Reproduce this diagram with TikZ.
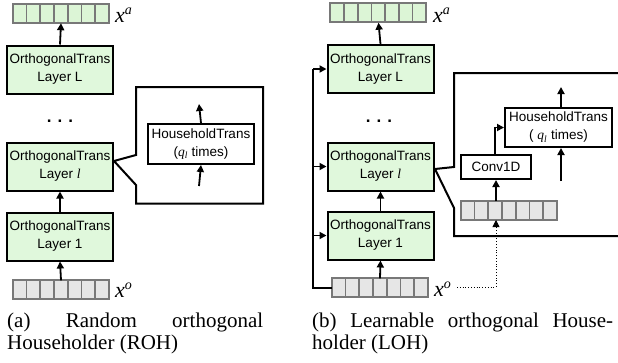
\documentclass[tikz,border=0pt]{standalone}
\usepackage{fontspec}
\setmainfont{Liberation Sans}
\newfontfamily\serif{Liberation Serif}
\usetikzlibrary{arrows.meta,calc}
\definecolor{boxgreen}{RGB}{224,248,220}
\definecolor{cellgreen}{RGB}{220,245,214}
\definecolor{cellgray}{RGB}{230,230,230}
\definecolor{cellline}{RGB}{120,120,120}
\newcommand{\drawcells}[2]{%
  \foreach \i in {0,...,6}{%
    \draw[cellline,line width=1.7pt,fill=#2] ($(#1.north west)+(\i*13.714,0)$) rectangle ++(13.714,19);}}
\newcommand{\qlsym}{{\serif\itshape q}\textsubscript{\serif\itshape l}}
\newcommand{\lsym}{{\serif\itshape l}}
\newcommand{\veclabel}[1]{{\serif\itshape\fontsize{22}{22}\selectfont x\raisebox{8pt}{\fontsize{14}{14}\selectfont #1}}}
\begin{document}
\begin{tikzpicture}[x=1pt,y=-1pt,
  layerbox/.style={draw=black,line width=2pt,fill=boxgreen,minimum width=106pt,minimum height=48pt,inner sep=0pt,align=center,font=\fontsize{13.5}{18}\selectfont},
  plainbox/.style={draw=black,line width=2pt,fill=white,inner sep=0pt,align=center,font=\fontsize{13.5}{18}\selectfont},
  vecnode/.style={minimum width=96pt,minimum height=19pt,inner sep=0pt},
  conn/.style={line width=1.8pt,-{Triangle[length=7pt,width=7pt]}},
  plainline/.style={line width=1.8pt},
  callout/.style={line width=2pt,line join=miter},
  dotsnode/.style={font=\bfseries\fontsize{17}{17}\selectfont,inner sep=0pt},
  lab/.style={anchor=west,inner sep=0pt},
  caption/.style={anchor=base west,inner sep=0pt,font=\serif\fontsize{21}{21}\selectfont}
]
\useasboundingbox (0,0) rectangle (618,362);

% ---------------- left panel ----------------
\node[vecnode] (xaL) at (61,13.5) {};
\drawcells{xaL}{cellgreen}
\node[lab] (xaLlab) at (115,15) {\veclabel{a}};
\node[layerbox] (LL) at (60,69.5) {OrthogonalTrans\\Layer L};
\node[dotsnode] (dotsL) at (60,121) {.\hspace{6pt}.\hspace{6pt}.};
\node[layerbox] (lL) at (60,166.5) {OrthogonalTrans\\Layer \lsym};
\node[layerbox] (oneL) at (60,236.5) {OrthogonalTrans\\Layer 1};
\node[vecnode] (xoL) at (61,290) {};
\drawcells{xoL}{cellgray}
\node[lab] (xoLlab) at (115,290) {\veclabel{o}};

\draw[conn] (oneL.north) -- (lL.south);
\draw[conn] (xoL.north) -- (oneL.south);
\draw[conn] (LL.north) -- (xaL.south);

\coordinate (apexL) at (114,161);
\draw[callout] (apexL) -- (136,155) -- (136,87) -- (263,87) -- (263,203.5) -- (136,203.5) -- (136,185) -- cycle;
\node[plainbox,minimum width=106pt,minimum height=40pt] (htL) at (201,144) {HouseholdTrans\\(\qlsym{} times)};
\coordinate (htLtop) at (199,104);
\coordinate (htLbot) at (199,186);
\draw[conn] (htL.north) -- (htLtop);
\draw[conn] (htLbot) -- (htL.south);

\node[caption] (capa1) at (7,327) {\makebox[256pt][s]{(a) Random orthogonal}};
\node[caption] (capa2) at (7,349) {Householder (ROH)};

% ---------------- right panel ----------------
\node[vecnode] (xaR) at (378.5,13) {};
\drawcells{xaR}{cellgreen}
\node[lab] (xaRlab) at (433,15) {\veclabel{a}};
\node[layerbox] (LR) at (380.5,69) {OrthogonalTrans\\Layer L};
\node[dotsnode] (dotsR) at (379,121) {.\hspace{6pt}.\hspace{6pt}.};
\node[layerbox] (lR) at (380.5,166.5) {OrthogonalTrans\\Layer \lsym};
\node[layerbox] (oneR) at (380.5,235.5) {OrthogonalTrans\\Layer 1};
\node[vecnode] (xoR) at (380,288) {};
\drawcells{xoR}{cellgray}
\node[lab] (xoRlab) at (434,289) {\veclabel{o}};

\draw[conn] (oneR.north) -- (lR.south);
\draw[conn] (xoR.north) -- (oneR.south);
\draw[conn] (LR.north) -- (xaR.south);

% skip connections
\coordinate (skL) at (313,69);
\coordinate (skl) at (313,166.5);
\coordinate (sk1) at (313,235.5);
\draw[plainline] (xoR.west) -| (skL);
\draw[conn] (skL) -- (LR.west);
\draw[conn] (skl) -- (lR.west);
\draw[conn] (sk1) -- (oneR.west);

% callout
\coordinate (apexR) at (435,169);
\draw[callout] (619,73) -- (454,73) -- (454,167) -- (apexR) -- (454,208) -- (454,236) -- (619,236);

\node[plainbox,minimum width=70pt,minimum height=24pt] (conv) at (496,167) {Conv1D};
\node[plainbox,minimum width=107pt,minimum height=39pt] (htR) at (558.5,127.5) {HouseholdTrans\\( \qlsym{} times)};
\node[vecnode] (vin) at (509,210.5) {};
\drawcells{vin}{cellgray}

\coordinate (vinTop) at (496,201);
\coordinate (vinBot) at (496,220);
\draw[conn] (vinTop) -- (conv.south);
\draw[conn] ($(conv.north)+(-1,0)$) |- (htR.west);
\coordinate (htRtop) at (561,87);
\coordinate (htRbot) at (561,181);
\draw[conn] (htR.north -| htRtop) -- (htRtop);
\draw[conn] (htRbot) -- (htR.south -| htRbot);
\coordinate (dotStart) at (457,287);
\draw[dotted,line width=0.8pt,-{Triangle[length=7pt,width=7pt]}] (dotStart) -| (vinBot);

\node[caption] (capb1) at (312,327) {\makebox[301pt][s]{(b) Learnable orthogonal House-}};
\node[caption] (capb2) at (312,349) {holder (LOH)};
\end{tikzpicture}
\end{document}
